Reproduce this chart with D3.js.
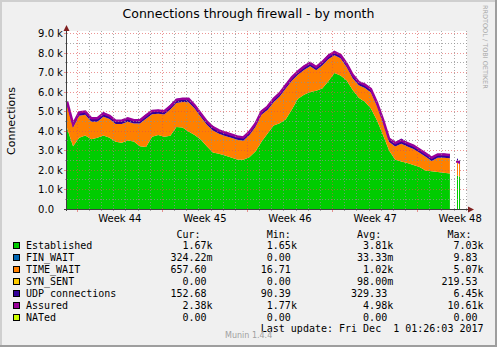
<!DOCTYPE html>
<html><head><meta charset="utf-8">
<script src="https://cdn.jsdelivr.net/npm/d3@7/dist/d3.min.js"></script>
<style>
html,body{margin:0;padding:0;background:#fff;}
svg{display:block;}
text{font-family:"DejaVu Sans",sans-serif;fill:#000;}
.mono{font-family:"DejaVu Sans Mono",monospace;font-size:10px;}
</style></head><body>
<svg id="chart" width="497" height="347"></svg>
<script>
// ---------------- data ----------------
const title = "Connections through firewall - by month";
const yAxisTitle = "Connections";
const viewStart = "2017-10-29T03:40:00Z";
const viewEnd = "2017-12-01T01:26:03Z";
const sampleStart = "2017-10-29T03:40:00Z";
const stepHours = 12;

const established = [
  4150,3220,3650,3770,3580,3660,3770,3660,
  3450,3400,3510,3460,3220,3180,3700,3800,
  3700,3760,4200,4180,3980,3800,3570,3220,
  2900,2830,2740,2640,2540,2530,2650,2950,
  3450,3870,4280,4400,4600,5100,5650,5860,
  6000,6070,6180,6550,6970,6850,6600,6100,
  5700,5500,5150,4550,3800,3000,2530,2440,
  2360,2260,2150,1970,1930,1900,1860,1820];
const timeWait = [
  1200,960,1130,1060,900,820,960,950,
  910,960,970,920,1160,1450,1160,1080,
  1140,1340,1230,1310,1500,1350,1160,1100,
  1130,1030,1010,1010,1010,970,1130,1250,
  1380,1210,1200,1370,1580,1480,1230,1270,
  1320,1040,1180,1130,910,880,680,610,
  640,710,830,730,610,430,680,910,
  850,820,730,710,530,730,770,780];
const udp = [
  200,170,230,190,160,200,250,180,
  170,210,190,160,200,230,180,210,
  190,240,220,200,180,210,190,170,
  200,170,160,190,180,150,200,210,
  240,190,220,200,250,190,210,230,
  200,180,220,260,190,210,170,200,
  180,210,190,160,150,170,200,270,
  210,190,170,220,180,160,210,190];
const assured = [
  5520,4350,4950,5000,4650,4650,4900,4780,
  4530,4530,4650,4550,4550,4800,5030,5050,
  5010,5270,5600,5660,5650,5320,4900,4490,
  4200,4030,3920,3820,3720,3670,3950,4370,
  5000,5250,5650,5940,6350,6750,7050,7300,
  7490,7280,7530,7850,8050,7900,7450,6880,
  6510,6380,6150,5450,4580,3600,3380,3520,
  3380,3250,3050,2850,2630,2800,2800,2770];

// last isolated samples
const tailTimes = ["2017-11-30T05:40:00Z","2017-11-30T09:40:00Z"];
const tailEstablished = [1710,1670];
const tailTimeWait = [720,658];
const tailUdp = [150,153];
const tailAssured = [2420,2380];

const yMax = 9000;

const seriesNames = ["Established","FIN_WAIT","TIME_WAIT","SYN_SENT","UDP connections","Assured","NATed"];
const curValues = [1670, 0.32422, 657.60, 0, 152.68, 2380, 0];
const minValues = [1650, 0, 16.71, 0, 90.39, 1770, 0];
const avgValues = [3810, 0.03333, 1020, 0.098, 329.33, 4980, 0];
const maxValues = [7030, 9.83, 5070, 219.53, 6450, 10610, 0];
const columnHeads = ["Cur:","Min:","Avg:","Max:"];
const lastUpdate = "Last update: Fri Dec  1 01:26:03 2017";
const versionText = "Munin 1.4.4";
const watermark = "RRDTOOL / TOBI OETIKER";

// ---------------- styles ----------------
const colors = ["#00CC00","#0066B3","#FF8000","#FFCC00","#330099","#990099","#CCFF00"];
const W = 497, H = 347;
const L = 67, R = 467, TOP = 31, BASE = 209;

const svg = d3.select("#chart");
// background & shade
svg.append("rect").attr("width",W).attr("height",H).attr("fill","#F0F0F0");
svg.append("rect").attr("x",0).attr("y",0).attr("width",W).attr("height",2).attr("fill","#CFCFCF");
svg.append("rect").attr("x",0).attr("y",0).attr("width",2).attr("height",H).attr("fill","#CFCFCF");
svg.append("rect").attr("x",0).attr("y",H-2).attr("width",W).attr("height",2).attr("fill","#9E9E9E");
svg.append("rect").attr("x",W-2).attr("y",0).attr("width",2).attr("height",H).attr("fill","#9E9E9E");

// canvas
svg.append("rect").attr("x",L).attr("y",TOP).attr("width",R-L).attr("height",BASE-TOP).attr("fill","#FFFFFF");

const x = d3.scaleUtc().domain([new Date(viewStart), new Date(viewEnd)]).range([L, R]);
const y = d3.scaleLinear().domain([0, yMax]).range([BASE, 33.5]);

const t0 = new Date(sampleStart);
const rows = established.map((e,i)=>({
  t: d3.utcHour.offset(t0, i*stepHours), est:e, tw:timeWait[i], udp:udp[i], as:assured[i]
}));
const stack = d3.stack().keys(["est","tw","udp"]);
const layers = stack(rows);
const layerColors = {est:colors[0], tw:colors[2], udp:colors[4]};
const area = d3.area().x(d=>x(d.data.t)).y0(d=>y(d[0])).y1(d=>y(d[1]));
const gData = svg.append("g");
layers.forEach(ly=>{
  gData.append("path").attr("d",area(ly)).attr("fill",layerColors[ly.key]);
});
gData.append("path")
  .attr("d", d3.line().x(d=>x(d.t)).y(d=>y(d.as))(rows))
  .attr("fill","none").attr("stroke",colors[5]).attr("stroke-width",2.5);

// tail samples
const tailRows = tailTimes.map((s,i)=>({t:new Date(s), est:tailEstablished[i], tw:tailTimeWait[i], udp:tailUdp[i], as:tailAssured[i]}));
const tailLayers = stack(tailRows);
tailLayers.forEach(ly=>{
  gData.selectAll(null).data(ly).enter().append("rect")
    .attr("x",d=>x(d.data.t))
    .attr("width",d=>x(d3.utcHour.offset(d.data.t,2))-x(d.data.t))
    .attr("y",d=>y(d[1]))
    .attr("height",d=>y(d[0])-y(d[1]))
    .attr("fill",layerColors[ly.key]);
});
gData.append("path")
  .attr("d", d3.line().x(d=>x(d.t)).y(d=>y(d.as)).curve(d3.curveStepAfter)(tailRows))
  .attr("fill","none").attr("stroke",colors[5]).attr("stroke-width",2).attr("stroke-linecap","square");

// grid
const gridMinor = "rgba(143,143,143,0.75)";
const gridMajor = "rgba(222,79,79,0.6)";
const gGrid = svg.append("g").attr("shape-rendering","crispEdges");
const majorY = y.ticks(9);
const minorY = y.ticks(18).filter(v=>!majorY.includes(v));
const py = v=>Math.floor(y(v))+0.5;
const dayTicks = d3.utcDay.range(d3.utcDay.ceil(x.domain()[0]), x.domain()[1]);
const weekTicks = d3.utcMonday.range(d3.utcMonday.ceil(x.domain()[0]), x.domain()[1]);
const isMonday = d=>weekTicks.some(w=>+w===+d);
const minorX = dayTicks.filter(d=>!isMonday(d));
const px = d=>Math.floor(x(d))+0.5;

minorY.filter(v=>v>0).forEach(v=>{
  gGrid.append("line").attr("x1",L).attr("x2",R).attr("y1",py(v)).attr("y2",py(v))
    .attr("stroke",gridMinor).attr("stroke-dasharray","1,2");
  gGrid.append("line").attr("x1",L-2).attr("x2",L).attr("y1",py(v)).attr("y2",py(v)).attr("stroke",gridMinor);
});
minorX.forEach(d=>{
  gGrid.append("line").attr("x1",px(d)).attr("x2",px(d)).attr("y1",TOP).attr("y2",BASE)
    .attr("stroke",gridMinor).attr("stroke-dasharray","1,2");
  gGrid.append("line").attr("x1",px(d)).attr("x2",px(d)).attr("y1",BASE).attr("y2",BASE+2).attr("stroke",gridMinor);
});
majorY.filter(v=>v>0).forEach(v=>{
  gGrid.append("line").attr("x1",L).attr("x2",R).attr("y1",py(v)).attr("y2",py(v))
    .attr("stroke",gridMajor).attr("stroke-dasharray","1,2");
});
majorY.forEach(v=>{
  gGrid.append("line").attr("x1",L-3).attr("x2",L).attr("y1",py(v)).attr("y2",py(v)).attr("stroke",gridMajor);
});
weekTicks.forEach(d=>{
  gGrid.append("line").attr("x1",px(d)).attr("x2",px(d)).attr("y1",TOP).attr("y2",BASE)
    .attr("stroke",gridMajor).attr("stroke-dasharray","1,2");
  gGrid.append("line").attr("x1",px(d)).attr("x2",px(d)).attr("y1",BASE).attr("y2",BASE+3).attr("stroke",gridMajor);
});

// axes
const axisColor = "#404040";
gGrid.append("line").attr("x1",L-0.5).attr("x2",L-0.5).attr("y1",BASE+2).attr("y2",29).attr("stroke",axisColor);
gGrid.append("line").attr("x1",L-3).attr("x2",R+1).attr("y1",BASE+0.5).attr("y2",BASE+0.5).attr("stroke",axisColor);
const arrowColor = "#801F1F";
svg.append("path").attr("d",`M${L-3.5},31 L${L+2.5},31 L${L-0.5},25 Z`).attr("fill",arrowColor);
svg.append("path").attr("d",`M${R+1},${BASE-2.5} L${R+1},${BASE+3.5} L${R+7},${BASE+0.5} Z`).attr("fill",arrowColor);

// y labels
majorY.forEach(v=>{
  const ty = py(v)+3.6;
  const num = d3.format(".1f")(v/1000);
  svg.append("text").attr("x",54).attr("y",ty).attr("text-anchor","end").attr("font-size",10).text(v===0?"0.0":num);
  if(v!==0) svg.append("text").attr("x",57).attr("y",ty).attr("font-size",10).text("k");
});
// x labels
const weekFmt = d3.utcFormat("%V");
weekTicks.forEach(d=>{
  svg.append("text").attr("x",x(d3.utcHour.offset(d,84))).attr("y",222)
    .attr("text-anchor","middle").attr("font-size",10).text("Week "+weekFmt(d));
});

// titles
svg.append("text").attr("x",248.5).attr("y",18).attr("text-anchor","middle").attr("font-size",12.5).text(title);
svg.append("text").attr("transform","translate(14.5,121) rotate(-90)").attr("text-anchor","middle").attr("font-size",11).text(yAxisTitle);
svg.append("text").attr("transform","translate(482.5,5) rotate(90)").attr("font-size",6.5).style("fill","#A8A8A8").text(watermark);

// legend
const cw = 6.02, lx = 26;
const colEnds = [31,45,61,76].map(c=>lx+c*cw);
const headCols = [25,40,55,70];
columnHeads.forEach((h,i)=>{
  svg.append("text").attr("class","mono").attr("x",lx+headCols[i]*cw).attr("y",238).text(h);
});
function siParts(v){
  if(v===0) return ["0.00",""];
  const a = Math.abs(v);
  if(a>=1000) return [(v/1000).toFixed(2),"k"];
  if(a>=1) return [v.toFixed(2),""];
  return [(v*1000).toFixed(2),"m"];
}
const stats = [curValues,minValues,avgValues,maxValues];
seriesNames.forEach((name,i)=>{
  const base = 249 + i*12;
  svg.append("rect").attr("x",13.5).attr("y",base-6.5).attr("width",6).attr("height",6)
    .attr("fill",colors[i]).attr("stroke","#000").attr("stroke-width",1);
  svg.append("text").attr("class","mono").attr("x",lx).attr("y",base).text(name);
  stats.forEach((arr,c)=>{
    const [n,s] = siParts(arr[i]);
    svg.append("text").attr("class","mono").attr("x",colEnds[c]-cw).attr("y",base).attr("text-anchor","end").text(n);
    if(s) svg.append("text").attr("class","mono").attr("x",colEnds[c]-cw).attr("y",base).text(s);
  });
});
svg.append("text").attr("class","mono").attr("x",colEnds[3]).attr("y",332).attr("text-anchor","end")
  .style("white-space","pre").attr("xml:space","preserve").text(lastUpdate);
svg.append("text").attr("x",225).attr("y",338).attr("font-size",8).style("fill","#A0A0A0").text(versionText);
</script>
</body></html>
